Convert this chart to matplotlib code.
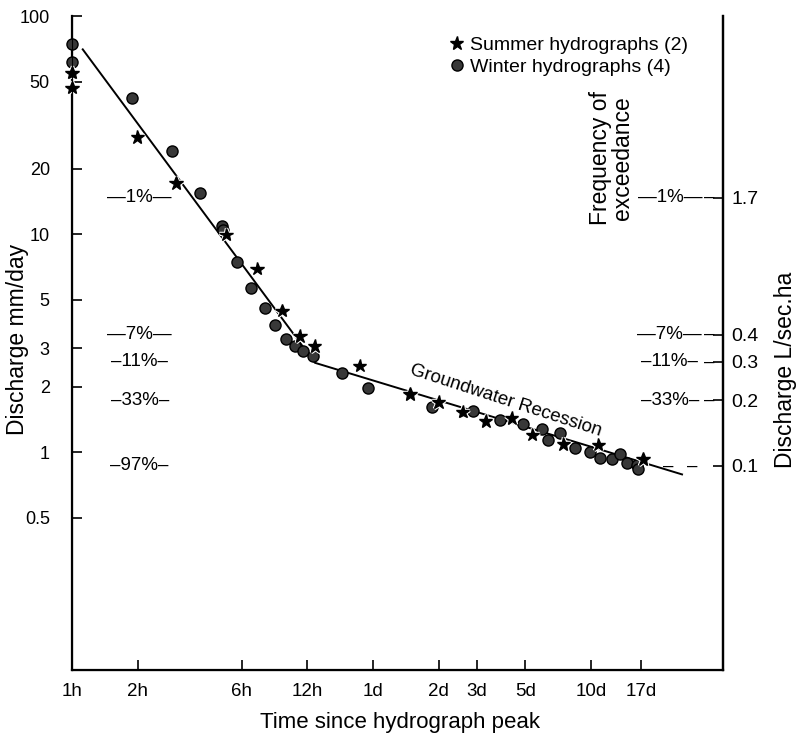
"""
Recession of hydrograph discharge after the peak, log-log plot
"""
import matplotlib.pyplot as plt
import matplotlib.patheffects as pe

plt.rcParams["font.family"] = ["Liberation Sans", "DejaVu Sans"]

# hours since peak, discharge mm/day
SUMMER_T = [1.0, 1.0, 1.99, 3.0, 5.09, 7.06, 9.19, 11.1, 13.0, 20.9, 35.5,
            48, 62, 79, 104, 129, 179, 259, 416]
SUMMER_Q = [55, 47, 27.8, 17.1, 9.95, 6.94, 4.45, 3.41, 3.07, 2.49, 1.85,
            1.70, 1.53, 1.39, 1.43, 1.20, 1.09, 1.08, 0.93]

WINTER_T = [1.0, 1.0, 1.88, 2.88, 3.87, 4.88, 4.95, 5.71, 6.62, 7.68, 8.54,
            9.59, 10.5, 11.5, 12.8, 17.3, 22.8, 44.8, 69, 92, 117, 143, 152,
            173, 203, 238, 264, 300, 326, 351, 391, 395]
WINTER_Q = [75, 62, 42, 24, 15.5, 10.9, 10.4, 7.47, 5.68, 4.59, 3.84,
            3.31, 3.07, 2.91, 2.76, 2.31, 1.97, 1.61, 1.54, 1.40, 1.35, 1.28,
            1.14, 1.22, 1.04, 1.00, 0.94, 0.93, 0.98, 0.89, 0.87, 0.84]

# fitted recession (two straight segments)
FIT_T = [1.12, 13, 628]
FIT_Q = [70.5, 2.57, 0.79]

X_TICKS = [1, 2, 6, 12, 24, 48, 72, 120, 240, 408]
X_LABELS = ["1h", "2h", "6h", "12h", "1d", "2d", "3d", "5d", "10d", "17d"]
Y_TICKS = [100, 50, 20, 10, 5, 3, 2, 1, 0.5]
Y_LABELS = ["100", "50", "20", "10", "5", "3", "2", "1", "0.5"]

# right axis in L/sec.ha, with frequency of exceedance
LSHA = [1.7, 0.4, 0.3, 0.2, 0.1]
EXCEED = ["1%", "7%", "11%", "33%", "97%"]
MM_PER_LSHA = 8.64

fig = plt.figure(figsize=(8, 7.37), dpi=100)
ax = fig.add_axes([0.09, 0.0909, 0.814, 0.887])

ax.plot(FIT_T, FIT_Q, color="black", lw=1.4, zorder=2)
ax.plot(WINTER_T, WINTER_Q, "o", ms=8, mfc="#383838", mec="black", mew=1.0,
        clip_on=False, zorder=3, label="Winter hydrographs (4)")
ax.plot(SUMMER_T, SUMMER_Q, "*", ms=10, color="black", clip_on=False, zorder=4,
        path_effects=[pe.withStroke(linewidth=2.5, foreground="white")],
        label="Summer hydrographs (2)")

ax.set_xscale("log")
ax.set_yscale("log")
ax.set_xlim(1, 970)
ax.set_ylim(0.1, 100)
ax.set_xticks(X_TICKS)
ax.set_xticklabels(X_LABELS, fontsize=13.5)
ax.set_yticks(Y_TICKS)
ax.set_yticklabels(Y_LABELS, fontsize=13)
ax.minorticks_off()
ax.tick_params(axis="x", direction="in", length=7, width=1.2, pad=9)
ax.tick_params(axis="y", direction="in", length=7, width=1.2, pad=16)
ax.spines["top"].set_visible(False)
for side in ["left", "bottom", "right"]:
  ax.spines[side].set_linewidth(1.6)

ax2 = ax.twinx()
ax2.set_yscale("log")
ax2.set_ylim(0.1, 100)
ax2.set_yticks([v * MM_PER_LSHA for v in LSHA])
ax2.set_yticklabels([str(v) for v in LSHA], fontsize=14)
ax2.minorticks_off()
ax2.tick_params(axis="y", direction="in", length=7, width=1.2, pad=6)
ax2.spines["top"].set_visible(False)
ax2.spines["right"].set_linewidth(1.6)

# frequency of exceedance marks, left and right
ytr = ax.get_yaxis_transform()
for v, p in zip(LSHA, EXCEED):
  q = v * MM_PER_LSHA
  dash = "\u2014" if p in ("1%", "7%") else "\u2013"
  ax.text(0.104, q, f"{dash}{p}{dash}", transform=ytr, ha="center",
          va="center", fontsize=13.5)
  if p == "97%":
    ax.text(0.916, q, "\u2013", transform=ytr, ha="center", va="center",
            fontsize=13.5)
    ax.text(0.952, q, "\u2013", transform=ytr, ha="center", va="center",
            fontsize=13.5)
  else:
    ax.text(0.918, q, f"{dash}{p}{dash}", transform=ytr, ha="center",
            va="center", fontsize=13.5)
    ax.text(0.978, q, "\u2013", transform=ytr, ha="center", va="center",
            fontsize=13.5)

ax.text(98, 1.72, "Groundwater Recession", rotation=-18, rotation_mode="anchor",
        ha="center", va="center", fontsize=13.5)
ax.text(0.829, 0.783, "Frequency of\nexceedance", transform=ax.transAxes,
        rotation=90, ha="center", va="center", multialignment="center",
        linespacing=0.95, fontsize=16.5)

ax.text(-0.083, 0.505, "Discharge mm/day", transform=ax.transAxes, rotation=90,
        ha="center", va="center", fontsize=16.5)
ax.text(1.095, 0.459, "Discharge L/sec.ha", transform=ax.transAxes,
        rotation=90, ha="center", va="center", fontsize=16.5)
ax.text(0.504, -0.081, "Time since hydrograph peak", transform=ax.transAxes,
        ha="center", va="center", fontsize=16)

handles, labels = ax.get_legend_handles_labels()
ax.legend(handles[::-1], labels[::-1], loc="upper left",
          bbox_to_anchor=(0.579, 0.969), frameon=False, fontsize=14,
          handlelength=0.8, handletextpad=0.3, borderpad=0, borderaxespad=0,
          labelspacing=0.2, numpoints=1)

fig.savefig("out.png", dpi=100)
